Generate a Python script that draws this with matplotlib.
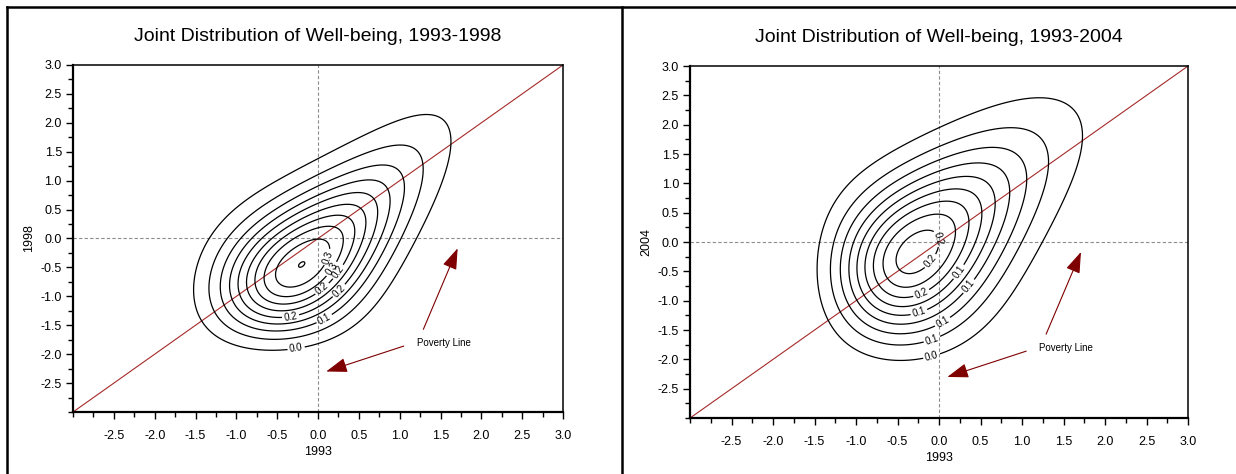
import numpy as np
import matplotlib
matplotlib.use("Agg")
import matplotlib.pyplot as plt
from matplotlib.lines import Line2D
from matplotlib.ticker import MultipleLocator

plt.rcParams['font.family'] = ['Liberation Sans', 'DejaVu Sans']

# ---- data ----
titles = ["Joint Distribution of Well-being, 1993-1998",
          "Joint Distribution of Well-being, 1993-2004"]
xlabels = ["1993", "1993"]
ylabels = ["1998", "2004"]

# shape of each density surface, read from the contour extents:
# centre, spread and right-skew of each axis, correlation in the middle and
# how much it rises toward the upper-right tail, height of the peak
p1_centre = (-0.20, -0.45)
p1_spread = (0.72, 0.90)
p1_skew = (0.15, 0.26)
p1_rho_mid = 0.52
p1_rho_swing = 0.38
p1_peak = 0.3335
p1_levels = [0.033, 0.066, 0.1, 0.133, 0.166, 0.2, 0.233, 0.266, 0.3, 0.333]
p1_labels = [(0.15, -0.34), (0.19, -0.55), (0.27, -0.6), (0.07, -0.9),
             (0.27, -0.92), (-0.33, -1.4), (0.07, -1.37), (-0.27, -1.88)]

p2_centre = (-0.27, -0.18)
p2_spread = (0.72, 1.03)
p2_skew = (0.24, 0.17)
p2_rho_mid = 0.42
p2_rho_swing = 0.42
p2_peak = 0.24
p2_levels = [0.025, 0.05, 0.075, 0.1, 0.125, 0.15, 0.175, 0.2, 0.225]
p2_labels = [(0.09, 0.09), (-0.09, -0.34), (0.23, -0.5), (-0.23, -0.82),
             (0.39, -0.79), (-0.25, -1.16), (0.03, -1.33), (-0.09, -1.64),
             (-0.09, -1.94)]

poverty_x = 0.0
poverty_y = 0.0
note_text = "Poverty Line"
note_xy = (1.21, -1.8)
arrow_tips = [(1.71, -0.17), (0.10, -2.30)]
arrow_tails = [(1.29, -1.57), (1.05, -1.86)]


def surface(X, Y, centre, spread, skew, rho_mid, rho_swing, peak):
    u = np.log1p(skew[0] * (X - centre[0]) / spread[0]) / skew[0]
    v = np.log1p(skew[1] * (Y - centre[1]) / spread[1]) / skew[1]
    rho = rho_mid + rho_swing * np.tanh(0.35 * (u + v))
    q = (u * u - 2 * rho * u * v + v * v) / (1 - rho * rho)
    return peak * np.exp(-0.5 * q)


g = np.linspace(-3, 3, 400)
X, Y = np.meshgrid(g, g)
Z1 = surface(X, Y, p1_centre, p1_spread, p1_skew, p1_rho_mid, p1_rho_swing, p1_peak)
Z2 = surface(X, Y, p2_centre, p2_spread, p2_skew, p2_rho_mid, p2_rho_swing, p2_peak)

fig = plt.figure(figsize=(12.36, 4.74), dpi=100)
ax1 = fig.add_axes([0.0591, 0.1308, 0.3964, 0.7321])
ax2 = fig.add_axes([0.5583, 0.1181, 0.4029, 0.7426])

red = '#a52a2a'
dark = '#7f0000'

panels = [(ax1, Z1, p1_levels, p1_labels, titles[0], xlabels[0], ylabels[0]),
          (ax2, Z2, p2_levels, p2_labels, titles[1], xlabels[1], ylabels[1])]

for ax, Z, lev, lab, t, xl, yl in panels:
    ax.set_xlim(-3, 3)
    ax.set_ylim(-3, 3)
    # poverty lines
    ax.axvline(poverty_x, color='#8c8c8c', lw=0.8, ls=(0, (3, 2)), zorder=1)
    ax.axhline(poverty_y, color='#8c8c8c', lw=0.8, ls=(0, (3, 2)), zorder=1)
    # 45 degree line
    ax.plot([-3, 3], [-3, 3], color=red, lw=0.8, zorder=2)
    cs = ax.contour(X, Y, Z, levels=lev, colors='black', linewidths=0.9, zorder=3)
    ax.clabel(cs, fmt='%.1f', fontsize=7, inline=True, inline_spacing=2,
              manual=lab)
    # arrows
    for tip, tail in zip(arrow_tips, arrow_tails):
        ax.annotate('', xy=tip, xytext=tail,
                    arrowprops=dict(arrowstyle='-|>,head_length=1.3,head_width=0.45',
                                    mutation_scale=10, color=red, lw=0.8,
                                    fc=dark, ec=dark, shrinkA=0, shrinkB=0))
    ax.text(note_xy[0], note_xy[1], note_text, fontsize=7, va='center', ha='left')

    ax.set_title(t, fontsize=14, pad=17)
    ax.set_xlabel(xl, fontsize=9, labelpad=3)
    ax.set_ylabel(yl, fontsize=9, labelpad=4)
    ax.set_xticks(np.arange(-2.5, 3.01, 0.5))
    ax.set_yticks(np.arange(-2.5, 3.01, 0.5))
    ax.xaxis.set_minor_locator(MultipleLocator(0.25))
    ax.yaxis.set_minor_locator(MultipleLocator(0.25))
    ax.xaxis.set_major_formatter(plt.FormatStrFormatter('%.1f'))
    ax.yaxis.set_major_formatter(plt.FormatStrFormatter('%.1f'))
    ax.tick_params(which='major', direction='out', length=5, width=1, labelsize=9)
    ax.tick_params(which='minor', direction='out', length=3.5, width=1)
    ax.tick_params(axis='x', which='major', pad=8)
    ax.tick_params(axis='y', which='major', pad=3)
    ax.spines['left'].set_linewidth(1.6)
    ax.spines['bottom'].set_linewidth(1.6)
    ax.spines['top'].set_linewidth(1.1)
    ax.spines['right'].set_linewidth(1.1)

# outer frame of the page
fig.add_artist(Line2D([0.0057, 1.0], [0.985, 0.985], color='black', lw=1.8))
fig.add_artist(Line2D([0.0057, 0.0057], [0.0, 0.985], color='black', lw=1.8))
fig.add_artist(Line2D([0.5036, 0.5036], [0.0, 0.985], color='black', lw=1.8))

fig.savefig('out.png', dpi=100)
